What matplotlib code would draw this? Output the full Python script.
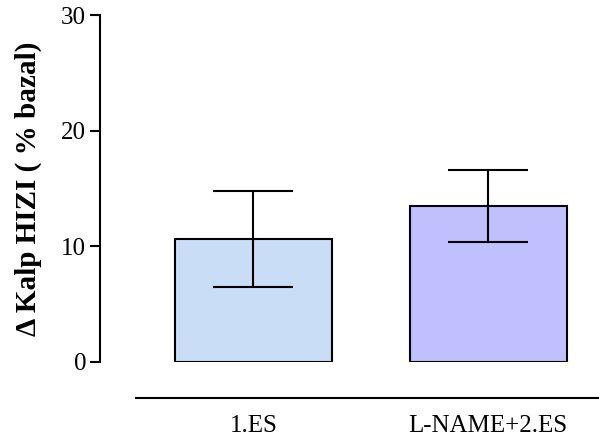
import matplotlib
matplotlib.use('Agg')
import matplotlib.pyplot as plt

# Data
groups = ['1.ES', 'L-NAME+2.ES']
means = [10.6, 13.5]
sem = [4.15, 3.1]
bar_colors = ['#C9DDF6', '#C0C0FF']

plt.rcParams['font.family'] = ['Liberation Serif', 'DejaVu Serif']

fig = plt.figure(figsize=(5.99, 4.42), dpi=100)
ax = fig.add_axes([100 / 599, 80 / 442, 499 / 599, 347 / 442])

x = list(range(len(groups)))
ax.bar(x, means, width=0.669, color=bar_colors, edgecolor='black', linewidth=1.5, zorder=2)
ax.errorbar(x, means, yerr=sem, fmt='none', ecolor='black', elinewidth=1.5,
            capsize=28.5, capthick=1.5, zorder=3)

ax.set_ylim(0, 30)
ax.set_xlim(-0.654, 1.473)
ax.set_yticks([0, 10, 20, 30])
ax.set_xticks(x)
ax.set_xticklabels(groups)

ax.spines['top'].set_visible(False)
ax.spines['right'].set_visible(False)
ax.spines['left'].set_linewidth(1.5)
ax.spines['bottom'].set_linewidth(1.5)
ax.spines['bottom'].set_position(('outward', 26))
ax.spines['bottom'].set_bounds(-0.5, 1.473)

ax.tick_params(axis='y', length=7, width=1.5, pad=3, labelsize=18)
ax.tick_params(axis='x', length=0, pad=12, labelsize=18)

ax.set_ylabel('Δ Kalp HIZI ( % bazal)', fontsize=21, fontweight='bold', labelpad=14)

fig.savefig('out.png', dpi=100)
